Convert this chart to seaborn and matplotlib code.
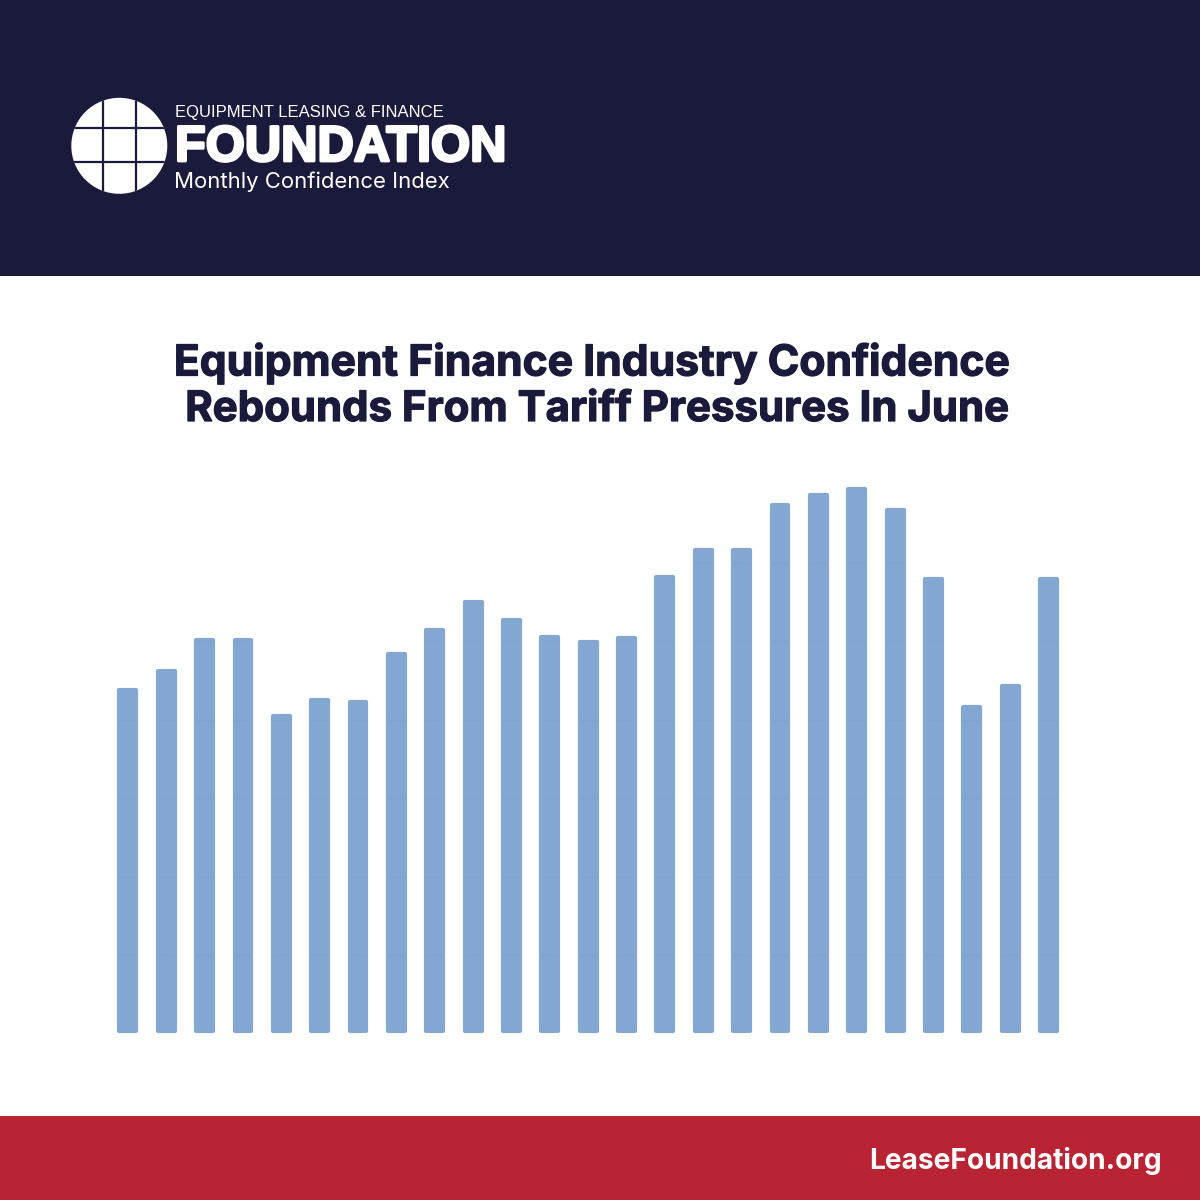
import matplotlib
matplotlib.use("Agg")
import matplotlib.pyplot as plt
import matplotlib.patheffects as pe
from matplotlib.patches import Circle, Rectangle
from matplotlib.path import Path
import pandas as pd
import seaborn as sns

months = ["Jun 23", "Jul 23", "Aug 23", "Sep 23", "Oct 23", "Nov 23", "Dec 23", "Jan 24", "Feb 24",
          "Mar 24", "Apr 24", "May 24", "Jun 24", "Jul 24", "Aug 24", "Sep 24", "Oct 24", "Nov 24",
          "Dec 24", "Jan 25", "Feb 25", "Mar 25", "Apr 25", "May 25", "Jun 25"]
# bar heights (no value axis is shown)
values = [341, 360, 391, 391, 315, 331, 329, 377, 401, 429, 411, 394, 389, 393,
          454, 481, 481, 526, 536, 542, 521, 452, 324, 345, 452]
grid_levels = [76, 154, 233, 311, 390, 468, 547]

NAVY = "#1a1b3a"
RED = "#b82433"
BLUE = "#84a7d2"

sns.set_theme(style="white")
fig = plt.figure(figsize=(12, 12), dpi=100, facecolor="white")

# page furniture in a pixel-coordinate overlay
bg = fig.add_axes([0, 0, 1, 1], zorder=0)
bg.set_xlim(0, 1200)
bg.set_ylim(1200, 0)
bg.axis("off")
bg.add_patch(Rectangle((0, 0), 1200, 276, color=NAVY, lw=0))
bg.add_patch(Rectangle((0, 1116), 1200, 84, color=RED, lw=0))

# logo globe
clip = Circle((119.3, 145.8), 48, color="white", lw=0)
bg.add_patch(clip)
for x in (102.7, 136):
    line = bg.plot([x, x], [90, 200], color=NAVY, lw=1.6, solid_capstyle="butt")[0]
    line.set_clip_path(clip)
for y in (128.3, 161.7):
    line = bg.plot([65, 175], [y, y], color=NAVY, lw=1.6, solid_capstyle="butt")[0]
    line.set_clip_path(clip)

bg.text(175, 113, "EQUIPMENT LEASING & FINANCE", color="white", family="Liberation Sans",
        fontsize=12.0, va="center", ha="left")
t = bg.text(175, 148, "FOUNDATION", color="white", family="Liberation Sans", weight="bold",
            fontsize=36.2, va="center", ha="left")
t.set_path_effects([pe.withStroke(linewidth=2.0, foreground="white")])
bg.text(174, 182, "Monthly Confidence Index", color="white", family="Inter",
        fontsize=15.9, va="center", ha="left")

bold = [pe.withStroke(linewidth=0.9, foreground=NAVY)]
for txt, cx, cy, size in [("Equipment Finance Industry Confidence", 591, 363, 30.7),
                          ("Rebounds From Tariff Pressures In June", 597, 410, 30.2)]:
    t = bg.text(cx, cy, txt, color=NAVY, family="Inter", weight="bold",
                fontsize=size, va="center", ha="center")
    t.set_path_effects(bold)
bg.text(1162, 1161, "LeaseFoundation.org", color="white", family="Inter", weight="bold",
        fontsize=20.2, va="center", ha="right")

# chart
ax = fig.add_axes([108.7 / 1200, (1200 - 1031) / 1200, 959 / 1200, 583 / 1200], zorder=1)
ax.patch.set_alpha(0)
df = pd.DataFrame({"month": months, "value": values})
sns.barplot(data=df, x="month", y="value", color=BLUE, saturation=1, width=0.44, ax=ax,
            edgecolor=BLUE, linewidth=3)
for bar in ax.patches:
    bar.set_joinstyle("round")
    bar.set_clip_on(False)
ax.set_xlim(-0.5, 24.5)
ax.set_ylim(0, 583)
ax.set_yticks(grid_levels)
ax.grid(axis="y", color="black", alpha=0.025, lw=1)
ax.set_axisbelow(False)
# the faint rules only show across the bars
bars_path = Path.make_compound_path(
    *[b.get_path().transformed(b.get_patch_transform()) for b in ax.patches])
for gl in ax.get_ygridlines():
    gl.set_clip_path(bars_path, ax.transData)
ax.tick_params(length=0, labelleft=False, labelbottom=False)
ax.set_xlabel("")
ax.set_ylabel("")
sns.despine(ax=ax, left=True, bottom=True)

fig.savefig("out.png", dpi=100)
